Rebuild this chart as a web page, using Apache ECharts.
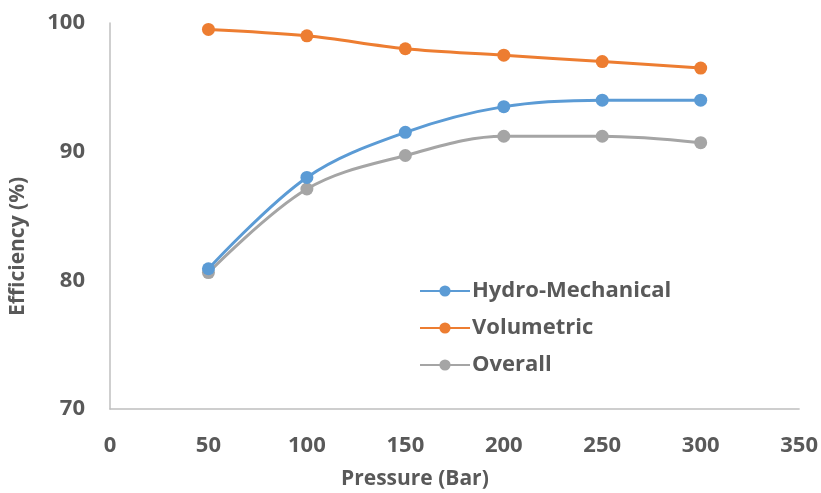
<!DOCTYPE html>
<html>
<head>
<meta charset="utf-8">
<script src="https://cdn.jsdelivr.net/npm/echarts@6/dist/echarts.min.js"></script>
<style>
  html, body { margin: 0; padding: 0; background: #fff; }
  #chart { width: 821px; height: 493px; }
</style>
</head>
<body>
<div id="chart"></div>
<script>
// Pump efficiency versus operating pressure
const pressure = [50, 100, 150, 200, 250, 300];
const hydroMechanical = [80.9, 88.0, 91.5, 93.5, 94.0, 94.0];
const volumetric = [99.5, 99.0, 98.0, 97.5, 97.0, 96.5];
const overall = [80.6, 87.1, 89.7, 91.2, 91.2, 90.7];

const seriesNames = ['Hydro-Mechanical', 'Volumetric', 'Overall'];
const seriesColors = ['#5B9BD5', '#ED7D31', '#A5A5A5'];
const seriesValues = [hydroMechanical, volumetric, overall];

const FONT = '"Open Sans", sans-serif';
const TEXT = '#595959';

const chart = echarts.init(document.getElementById('chart'));

chart.setOption({
  animation: false,
  backgroundColor: '#ffffff',
  grid: { left: 110, right: 21, top: 23, bottom: 84 },
  xAxis: {
    type: 'value',
    min: 0, max: 350, interval: 50,
    axisLine: { show: true, lineStyle: { color: '#BFBFBF', width: 1.5 } },
    axisTick: { show: false },
    splitLine: { show: false },
    axisLabel: { color: TEXT, fontFamily: FONT, fontSize: 22, fontWeight: 'bold', margin: 26 }
  },
  yAxis: {
    type: 'value',
    min: 70, max: 100, interval: 10,
    axisLine: { show: true, lineStyle: { color: '#BFBFBF', width: 1.5 } },
    axisTick: { show: false },
    splitLine: { show: false },
    axisLabel: { color: TEXT, fontFamily: FONT, fontSize: 22, fontWeight: 'bold', margin: 25 }
  },
  legend: {
    orient: 'vertical',
    left: 414, top: 275,
    itemWidth: 50, itemHeight: 14, itemGap: 15,
    textStyle: { color: TEXT, fontFamily: FONT, fontSize: 22, fontWeight: 'bold', padding: [0, 0, 0, -3] },
    data: seriesNames
  },
  graphic: [
    {
      type: 'text', left: 341, top: 469,
      style: { text: 'Pressure (Bar)', fill: TEXT, font: 'bold 21px ' + FONT }
    },
    {
      type: 'text', x: 8, y: 316, rotation: Math.PI / 2,
      style: { text: 'Efficiency (%)', fill: TEXT, font: 'bold 21px ' + FONT }
    }
  ],
  series: seriesNames.map((name, i) => ({
    name: name,
    type: 'line',
    smooth: 0.35,
    data: pressure.map((p, j) => [p, seriesValues[i][j]]),
    symbol: 'circle',
    symbolSize: 13,
    lineStyle: { width: 3, color: seriesColors[i] },
    itemStyle: { color: seriesColors[i] },
    z: 3 - i
  }))
});
</script>
</body>
</html>
